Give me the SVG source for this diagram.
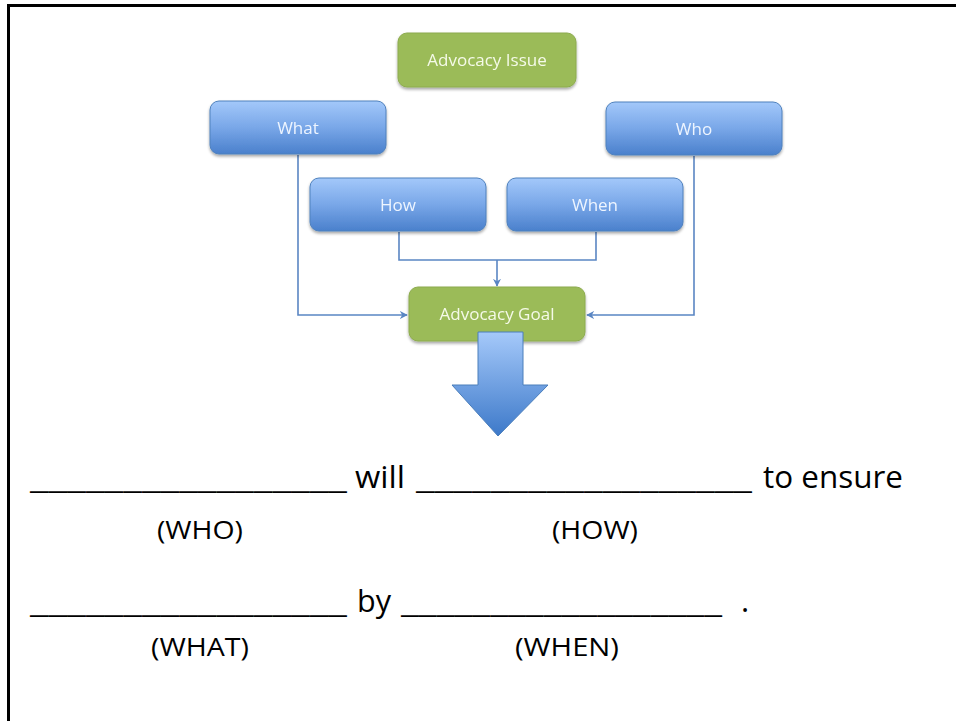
<svg xmlns="http://www.w3.org/2000/svg" width="956" height="721" viewBox="0 0 956 721">
<defs>
<linearGradient id="blueG" x1="0" y1="0" x2="0" y2="1">
<stop offset="0" stop-color="#A3C8FA"/>
<stop offset="0.5" stop-color="#79A7E8"/>
<stop offset="1" stop-color="#4A80CC"/>
</linearGradient>
<linearGradient id="arrowG" x1="0" y1="0" x2="0" y2="1">
<stop offset="0" stop-color="#A5C9FA"/>
<stop offset="1" stop-color="#3D79C9"/>
</linearGradient>
<filter id="sh" x="-10%" y="-20%" width="120%" height="150%">
<feGaussianBlur in="SourceAlpha" stdDeviation="1.5"/>
<feOffset dx="0" dy="2" result="b"/>
<feComponentTransfer><feFuncA type="linear" slope="0.35"/></feComponentTransfer>
<feMerge><feMergeNode/><feMergeNode in="SourceGraphic"/></feMerge>
</filter>
<marker id="ah" viewBox="0 0 10 10" refX="9" refY="5" markerWidth="8" markerHeight="8" markerUnits="userSpaceOnUse" orient="auto">
<path d="M0,0 L10,5 L0,10 L3,5 z" fill="#5A86C3"/>
</marker>
</defs>
<style>
.green{fill:#9BBB59;stroke:#8CAB4E;stroke-width:1}
.blue{fill:url(#blueG);stroke:#4F81BD;stroke-width:1}
.nt{font-family:"Open Sans","Liberation Sans",sans-serif;font-size:17px;text-anchor:middle}
.gt{fill:#F5FAE8}
.bt{fill:#EEF5FF}
.conn{fill:none;stroke:#5A86C3;stroke-width:1.6}
.big{font-family:"Open Sans","Liberation Sans",sans-serif;font-size:31px;fill:#000}
.lab{font-family:"Open Sans","Liberation Sans",sans-serif;font-size:25px;fill:#000;text-anchor:middle}
</style>
<rect width="956" height="721" fill="#fff"/>
<path d="M8.5,721 L8.5,5.5 L956,5.5" fill="none" stroke="#000" stroke-width="3"/>

<g id="connectors">
<path class="conn" d="M298,155 L298,315 L407,315" marker-end="url(#ah)"/>
<path class="conn" d="M694,156 L694,315 L587,315" marker-end="url(#ah)"/>
<path class="conn" d="M399,232 L399,260 L596,260 L596,232"/>
<path class="conn" d="M497,260 L497,286" marker-end="url(#ah)"/>
</g>

<g id="node-issue" filter="url(#sh)">
<rect class="green" x="398" y="33" width="178" height="54" rx="9"/>
<text class="nt gt" x="487" y="66">Advocacy Issue</text>
</g>
<g id="node-what" filter="url(#sh)">
<rect class="blue" x="210" y="101" width="176" height="53" rx="9"/>
<text class="nt bt" x="298" y="134">What</text>
</g>
<g id="node-who" filter="url(#sh)">
<rect class="blue" x="606" y="102" width="176" height="53" rx="9"/>
<text class="nt bt" x="694" y="135">Who</text>
</g>
<g id="node-how" filter="url(#sh)">
<rect class="blue" x="310" y="178" width="176" height="53" rx="9"/>
<text class="nt bt" x="398" y="211">How</text>
</g>
<g id="node-when" filter="url(#sh)">
<rect class="blue" x="507" y="178" width="176" height="53" rx="9"/>
<text class="nt bt" x="595" y="211">When</text>
</g>
<g id="node-goal" filter="url(#sh)">
<rect class="green" x="409" y="287" width="176" height="54" rx="9"/>
<text class="nt gt" x="497" y="320">Advocacy Goal</text>
</g>

<g id="big-arrow">
<path d="M478,332 L523,332 L523,385 L548,385 L498,436 L452,385 L478,385 Z" fill="url(#arrowG)" stroke="#4A7EBB" stroke-width="1"/>
</g>

<g id="sentence">
<text class="big" x="30" y="488" textLength="317" lengthAdjust="spacingAndGlyphs">_________________</text>
<text class="big" x="355" y="488" textLength="50" lengthAdjust="spacingAndGlyphs">will</text>
<text class="big" x="416" y="488" textLength="336" lengthAdjust="spacingAndGlyphs">__________________</text>
<text class="big" x="763" y="488" textLength="140" lengthAdjust="spacingAndGlyphs">to ensure</text>
<text class="lab" x="200" y="539" textLength="86" lengthAdjust="spacingAndGlyphs">(WHO)</text>
<text class="lab" x="595" y="539" textLength="86" lengthAdjust="spacingAndGlyphs">(HOW)</text>

<text class="big" x="30" y="612" textLength="317" lengthAdjust="spacingAndGlyphs">_________________</text>
<text class="big" x="357" y="612" textLength="34" lengthAdjust="spacingAndGlyphs">by</text>
<text class="big" x="401" y="612" textLength="321" lengthAdjust="spacingAndGlyphs">__________________</text>
<text class="big" x="741" y="612">.</text>
<text class="lab" x="200" y="656" textLength="98" lengthAdjust="spacingAndGlyphs">(WHAT)</text>
<text class="lab" x="567" y="656" textLength="104" lengthAdjust="spacingAndGlyphs">(WHEN)</text>
</g>
</svg>
